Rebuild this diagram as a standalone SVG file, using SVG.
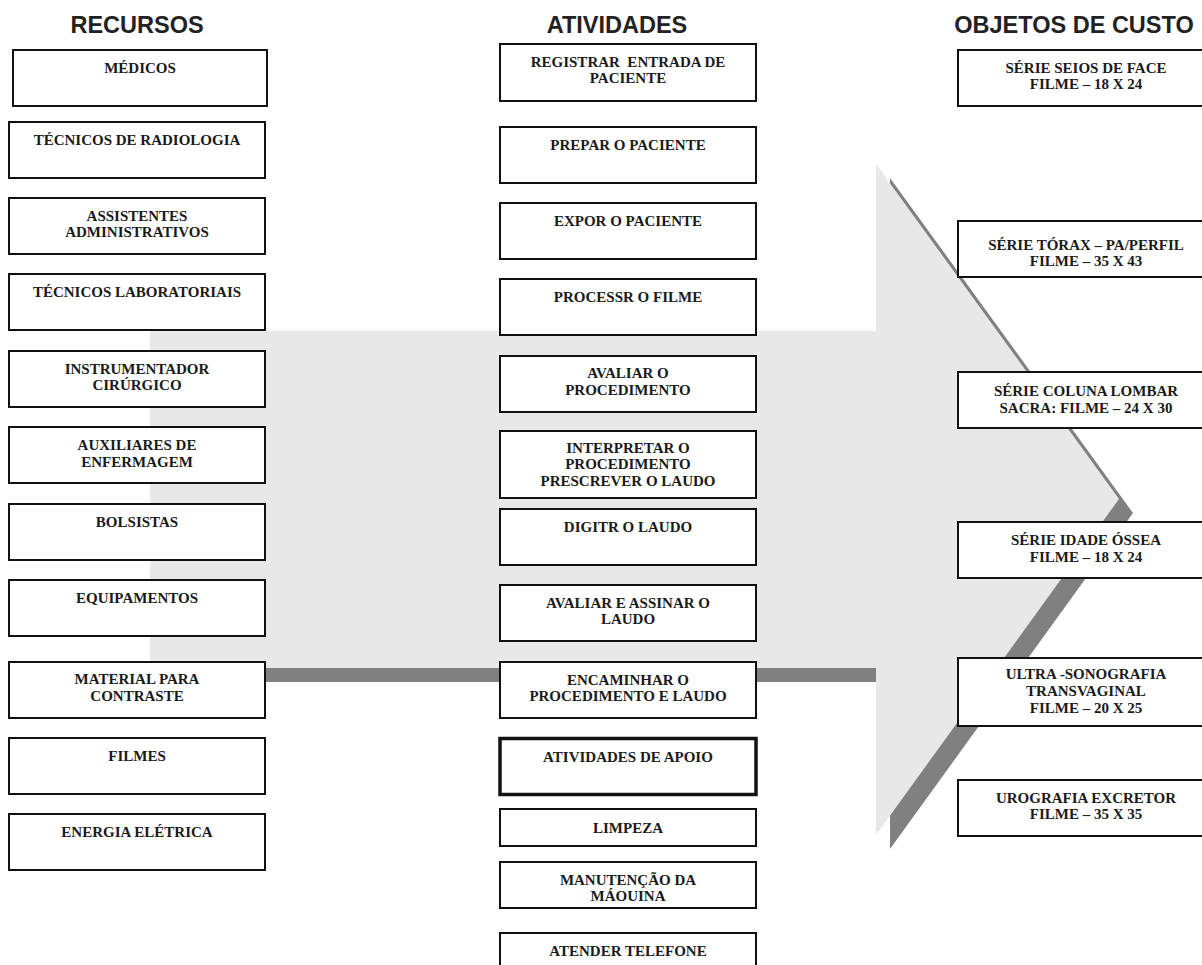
<svg xmlns="http://www.w3.org/2000/svg" width="1202" height="965" viewBox="0 0 1202 965">
<style>
.title{font-family:"Liberation Sans",Arial,sans-serif;font-weight:bold;font-size:23.5px;fill:#222;text-anchor:middle}
.box{fill:#fff;stroke:#111;stroke-width:2}
.thick{fill:#fff;stroke:#111;stroke-width:3.5}
.lbl{font-family:"Liberation Serif","Times New Roman",serif;font-weight:bold;font-size:15px;fill:#1a1a1a;text-anchor:middle}
</style>
<rect width="1202" height="965" fill="#fff"/>
<g id="big-arrow">
<polygon points="164,345 890,345 890,178 1133,513 890,849 890,682 164,682" fill="#808080"/>
<polygon points="150,331 876,331 876,164 1119,499 876,835 876,668 150,668" fill="#e8e8e8"/>
</g>
<g id="titles">
<text class="title" x="137" y="33">RECURSOS</text>
<text class="title" x="617" y="33">ATIVIDADES</text>
<text class="title" x="1074" y="33">OBJETOS DE CUSTO</text>
</g>
<g id="connectors"></g>
<g id="recursos">
<g id="r1"><rect class="box" x="13" y="50" width="254" height="56"/><text class="lbl" x="140" y="73">MÉDICOS</text></g>
<g id="r2"><rect class="box" x="9" y="122" width="256" height="56"/><text class="lbl" x="137" y="145">TÉCNICOS DE RADIOLOGIA</text></g>
<g id="r3"><rect class="box" x="9" y="198" width="256" height="56"/><text class="lbl" x="137" y="221">ASSISTENTES</text><text class="lbl" x="137" y="237">ADMINISTRATIVOS</text></g>
<g id="r4"><rect class="box" x="9" y="274" width="256" height="56"/><text class="lbl" x="137" y="297">TÉCNICOS LABORATORIAIS</text></g>
<g id="r5"><rect class="box" x="9" y="351" width="256" height="56"/><text class="lbl" x="137" y="374">INSTRUMENTADOR</text><text class="lbl" x="137" y="390">CIRÚRGICO</text></g>
<g id="r6"><rect class="box" x="9" y="427" width="256" height="56"/><text class="lbl" x="137" y="450">AUXILIARES DE</text><text class="lbl" x="137" y="467">ENFERMAGEM</text></g>
<g id="r7"><rect class="box" x="9" y="504" width="256" height="56"/><text class="lbl" x="137" y="527">BOLSISTAS</text></g>
<g id="r8"><rect class="box" x="9" y="580" width="256" height="56"/><text class="lbl" x="137" y="603">EQUIPAMENTOS</text></g>
<g id="r9"><rect class="box" x="9" y="662" width="256" height="56"/><text class="lbl" x="137" y="684">MATERIAL PARA</text><text class="lbl" x="137" y="701">CONTRASTE</text></g>
<g id="r10"><rect class="box" x="9" y="738" width="256" height="56"/><text class="lbl" x="137" y="761">FILMES</text></g>
<g id="r11"><rect class="box" x="9" y="814" width="256" height="56"/><text class="lbl" x="137" y="837">ENERGIA ELÉTRICA</text></g>
</g>
<g id="atividades">
<g id="a1"><rect class="box" x="500" y="44" width="256" height="57"/><text class="lbl" x="628" y="67">REGISTRAR &#160;ENTRADA DE</text><text class="lbl" x="628" y="83">PACIENTE</text></g>
<g id="a2"><rect class="box" x="500" y="127" width="256" height="56"/><text class="lbl" x="628" y="150">PREPAR O PACIENTE</text></g>
<g id="a3"><rect class="box" x="500" y="203" width="256" height="56"/><text class="lbl" x="628" y="226">EXPOR O PACIENTE</text></g>
<g id="a4"><rect class="box" x="500" y="279" width="256" height="56"/><text class="lbl" x="628" y="302">PROCESSR O FILME</text></g>
<g id="a5"><rect class="box" x="500" y="356" width="256" height="56"/><text class="lbl" x="628" y="378">AVALIAR O</text><text class="lbl" x="628" y="395">PROCEDIMENTO</text></g>
<g id="a6"><rect class="box" x="500" y="431" width="256" height="67"/><text class="lbl" x="628" y="453">INTERPRETAR O</text><text class="lbl" x="628" y="469">PROCEDIMENTO</text><text class="lbl" x="628" y="486">PRESCREVER O LAUDO</text></g>
<g id="a7"><rect class="box" x="500" y="509" width="256" height="56"/><text class="lbl" x="628" y="532">DIGITR O LAUDO</text></g>
<g id="a8"><rect class="box" x="500" y="585" width="256" height="56"/><text class="lbl" x="628" y="608">AVALIAR E ASSINAR O</text><text class="lbl" x="628" y="624">LAUDO</text></g>
<g id="a9"><rect class="box" x="500" y="662" width="256" height="56"/><text class="lbl" x="628" y="685">ENCAMINHAR O</text><text class="lbl" x="628" y="701">PROCEDIMENTO E LAUDO</text></g>
<g id="a10"><rect class="thick" x="500" y="738.5" width="256" height="56"/><text class="lbl" x="628" y="762">ATIVIDADES DE APOIO</text></g>
<g id="a11"><rect class="box" x="500" y="809" width="256" height="37"/><text class="lbl" x="628" y="833">LIMPEZA</text></g>
<g id="a12"><rect class="box" x="500" y="862" width="256" height="46"/><text class="lbl" x="628" y="885">MANUTENÇÃO DA</text><text class="lbl" x="628" y="901">MÁOUINA</text></g>
<g id="a13"><rect class="box" x="500" y="933" width="256" height="45"/><text class="lbl" x="628" y="956">ATENDER TELEFONE</text></g>
</g>
<g id="objetos">
<g id="o1"><rect class="box" x="958" y="50" width="258" height="56"/><text class="lbl" x="1086" y="73">SÉRIE SEIOS DE FACE</text><text class="lbl" x="1086" y="89">FILME – 18 X 24</text></g>
<g id="o2"><rect class="box" x="958" y="221" width="258" height="56"/><text class="lbl" x="1086" y="250">SÉRIE TÓRAX – PA/PERFIL</text><text class="lbl" x="1086" y="266">FILME – 35 X 43</text></g>
<g id="o3"><rect class="box" x="958" y="372" width="258" height="56"/><text class="lbl" x="1086" y="396">SÉRIE COLUNA LOMBAR</text><text class="lbl" x="1086" y="413">SACRA: FILME – 24 X 30</text></g>
<g id="o4"><rect class="box" x="958" y="522" width="258" height="56"/><text class="lbl" x="1086" y="545">SÉRIE IDADE ÓSSEA</text><text class="lbl" x="1086" y="562">FILME – 18 X 24</text></g>
<g id="o5"><rect class="box" x="958" y="658" width="258" height="68"/><text class="lbl" x="1086" y="679">ULTRA -SONOGRAFIA</text><text class="lbl" x="1086" y="696">TRANSVAGINAL</text><text class="lbl" x="1086" y="713">FILME – 20 X 25</text></g>
<g id="o6"><rect class="box" x="958" y="780" width="258" height="56"/><text class="lbl" x="1086" y="803">UROGRAFIA EXCRETOR</text><text class="lbl" x="1086" y="819">FILME – 35 X 35</text></g>
</g>
</svg>
